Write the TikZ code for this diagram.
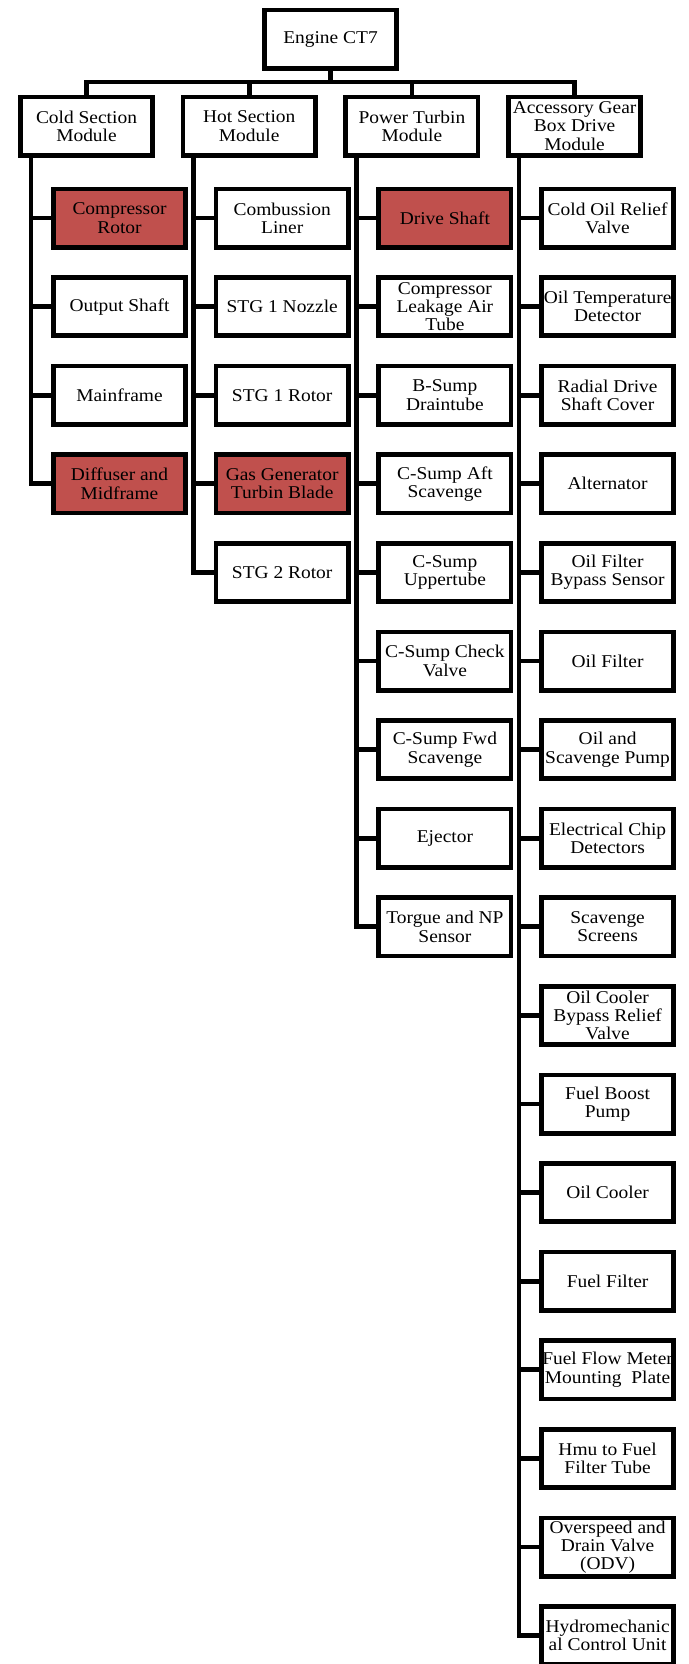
\documentclass[tikz,border=0pt]{standalone}
\usepackage{fontspec}
\setmainfont{Liberation Serif}[FakeStretch=1.08]
\usepackage{tikz}
\usetikzlibrary{positioning}
\definecolor{critred}{HTML}{C0504D}

\begin{document}
\begin{tikzpicture}[x=0.75pt, y=-0.75pt, node distance={19.2pt}, line width=3.5pt,
    box/.style = {draw, rectangle, fill=white, minimum width=99.25pt, minimum height=43.75pt,
      inner xsep=0.5pt, inner ysep=0pt, align=center, font=\fontsize{13.5pt}{13.7pt}\selectfont},
    crit/.style = {box, fill=critred}]
            \useasboundingbox (0,0) rectangle (689,1664);
            % Nodes
            \node[box] (engine) at (330.5,39) {Engine CT7};
            \node[box] (cold) at (86.5,126) {Cold Section\\Module};
            \node[box] (hot) at (249.2,126) {Hot Section\\Module};
            \node[box] (pow) at (411.9,126) {Power Turbin\\Module};
            \node[box] (acc) at (574.6,126) {Accessory Gear\\Box Drive\\Module};
            % Cold section
            \node[crit] (c1) [below right=21.75pt and 24.75pt of cold.south west] {Compressor\\Rotor};
            \node[box] (c2) [below=of c1] {Output Shaft};
            \node[box] (c3) [below=of c2] {Mainframe};
            \node[crit] (c4) [below=of c3] {Diffuser and\\Midframe};
            % Hot section
            \node[box] (h1) [below right=21.75pt and 24.75pt of hot.south west] {Combussion\\Liner};
            \node[box] (h2) [below=of h1] {STG 1 Nozzle};
            \node[box] (h3) [below=of h2] {STG 1 Rotor};
            \node[crit] (h4) [below=of h3] {Gas Generator\\Turbin Blade};
            \node[box] (h5) [below=of h4] {STG 2 Rotor};
            % Power turbin
            \node[crit] (p1) [below right=21.75pt and 24.75pt of pow.south west] {Drive Shaft};
            \node[box] (p2) [below=of p1] {Compressor\\Leakage Air\\Tube};
            \node[box] (p3) [below=of p2] {B-Sump\\Draintube};
            \node[box] (p4) [below=of p3] {C-Sump Aft\\Scavenge};
            \node[box] (p5) [below=of p4] {C-Sump\\Uppertube};
            \node[box] (p6) [below=of p5] {C-Sump Check\\Valve};
            \node[box] (p7) [below=of p6] {C-Sump Fwd\\Scavenge};
            \node[box] (p8) [below=of p7] {Ejector};
            \node[box] (p9) [below=of p8] {Torgue and NP\\Sensor};
            % Accessory gear box
            \node[box] (a1) [below right=21.75pt and 24.75pt of acc.south west] {Cold Oil Relief\\Valve};
            \node[box] (a2) [below=of a1] {Oil Temperature\\Detector};
            \node[box] (a3) [below=of a2] {Radial Drive\\Shaft Cover};
            \node[box] (a4) [below=of a3] {Alternator};
            \node[box] (a5) [below=of a4] {Oil Filter\\Bypass Sensor};
            \node[box] (a6) [below=of a5] {Oil Filter};
            \node[box] (a7) [below=of a6] {Oil and\\Scavenge Pump};
            \node[box] (a8) [below=of a7] {Electrical Chip\\Detectors};
            \node[box] (a9) [below=of a8] {Scavenge\\Screens};
            \node[box] (a10) [below=of a9] {Oil Cooler\\Bypass Relief\\Valve};
            \node[box] (a11) [below=of a10] {Fuel Boost\\Pump};
            \node[box] (a12) [below=of a11] {Oil Cooler};
            \node[box] (a13) [below=of a12] {Fuel Filter};
            \node[box] (a14) [below=of a13] {Fuel Flow Meter\\Mounting~ Plate};
            \node[box] (a15) [below=of a14] {Hmu to Fuel\\Filter Tube};
            \node[box] (a16) [below=of a15] {Overspeed and\\Drain Valve\\(ODV)};
            \node[box] (a17) [below=of a16] {Hydromechanic\\al Control Unit};
            % Edges
            \coordinate (bar) at (330.5,82);
            \draw (engine.south) -- (bar);
            \draw (cold.north) |- (bar) -| (acc.north);
            \draw (hot.north) -- (hot.north |- bar);
            \draw (pow.north) -- (pow.north |- bar);
            \coordinate (ct) at ([xshift=9.75pt]cold.south west);
            \coordinate (ht) at ([xshift=9.75pt]hot.south west);
            \coordinate (pt) at ([xshift=9.75pt]pow.south west);
            \coordinate (at) at ([xshift=9.75pt]acc.south west);
            \draw (ct) |- (c1.west);
            \draw (ct) |- (c2.west);
            \draw (ct) |- (c3.west);
            \draw (ct) |- (c4.west);
            \draw (ht) |- (h1.west);
            \draw (ht) |- (h2.west);
            \draw (ht) |- (h3.west);
            \draw (ht) |- (h4.west);
            \draw (ht) |- (h5.west);
            \draw (pt) |- (p1.west);
            \draw (pt) |- (p2.west);
            \draw (pt) |- (p3.west);
            \draw (pt) |- (p4.west);
            \draw (pt) |- (p5.west);
            \draw (pt) |- (p6.west);
            \draw (pt) |- (p7.west);
            \draw (pt) |- (p8.west);
            \draw (pt) |- (p9.west);
            \draw (at) |- (a1.west);
            \draw (at) |- (a2.west);
            \draw (at) |- (a3.west);
            \draw (at) |- (a4.west);
            \draw (at) |- (a5.west);
            \draw (at) |- (a6.west);
            \draw (at) |- (a7.west);
            \draw (at) |- (a8.west);
            \draw (at) |- (a9.west);
            \draw (at) |- (a10.west);
            \draw (at) |- (a11.west);
            \draw (at) |- (a12.west);
            \draw (at) |- (a13.west);
            \draw (at) |- (a14.west);
            \draw (at) |- (a15.west);
            \draw (at) |- (a16.west);
            \draw (at) |- (a17.west);
\end{tikzpicture}
\end{document}
